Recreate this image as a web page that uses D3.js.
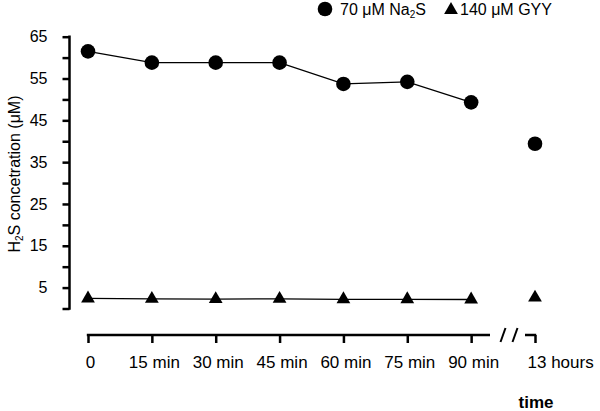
<!DOCTYPE html>
<html>
  <head>
    <meta charset="utf-8">
    <title>H2S concentration</title>
    <script src="https://d3js.org/d3.v7.min.js"></script>
    <style>
      body { margin: 0; background: #fff; }
      text { font-family: "Liberation Sans", Arial, sans-serif; }
    </style>
  </head>
  <body>
    <div id="chart"></div>
    <script>
      // Data
      const categories = ["0", "15 min", "30 min", "45 min", "60 min", "75 min", "90 min", "13 hours"];
      const na2s = [61.5, 58.8, 58.8, 58.8, 53.7, 54.2, 49.3, 39.4];
      const gyy = [2.4, 2.3, 2.25, 2.3, 2.2, 2.2, 2.15, 2.6];
      const yTicks = d3.range(0, 66, 5);
      const yLabels = [5, 15, 25, 35, 45, 55, 65];

      const width = 600, height = 411;

      const svg = d3.select("#chart")
        .append("svg")
        .attr("width", width)
        .attr("height", height);

      // Scales
      const x = d3.scalePoint()
        .domain(categories)
        .range([88, 535]);
      const y = d3.scaleLinear()
        .domain([0, 65])
        .range([308.5, 36.7]);

      const axisX = 69.5, axisY = 335;

      // Y axis
      const yAxis = d3.axisLeft(y)
        .tickValues(yTicks)
        .tickSize(7)
        .tickFormat(d => yLabels.includes(d) ? d : "");
      const gy = svg.append("g")
        .attr("transform", `translate(${axisX},0)`)
        .call(yAxis);
      gy.attr("font-size", 16).attr("font-family", "Liberation Sans, Arial, sans-serif");
      gy.select(".domain").remove();
      gy.append("line")
        .attr("x1", 0).attr("x2", 0)
        .attr("y1", y(0) + 1.2).attr("y2", y(65) - 1.2)
        .attr("stroke", "#000").attr("stroke-width", 2.5);
      gy.selectAll(".tick line").attr("stroke-width", 2.5);
      gy.selectAll(".tick text")
        .attr("x", -22)
        .attr("fill", "#000");

      // X axis (with break before 13 hours)
      const xAxis = d3.axisBottom(x).tickSize(8).tickPadding(13);
      const gx = svg.append("g")
        .attr("transform", `translate(0,${axisY})`)
        .call(xAxis);
      gx.attr("font-size", 17).attr("font-family", "Liberation Sans, Arial, sans-serif");
      gx.select(".domain").remove();
      gx.selectAll(".tick line").attr("stroke-width", 2.5);
      gx.selectAll(".tick text").attr("fill", "#000").attr("dx", 2);
      gx.selectAll(".tick text")
        .filter(d => d === "13 hours")
        .attr("text-anchor", "start")
        .attr("dx", -8);
      const last = x(categories[categories.length - 1]);
      gx.append("line")
        .attr("x1", x(categories[0]) - 1.2).attr("x2", 490)
        .attr("stroke", "#000").attr("stroke-width", 2.5);
      gx.append("line")
        .attr("x1", 525).attr("x2", last + 1.2)
        .attr("stroke", "#000").attr("stroke-width", 2.5);
      [503, 515].forEach(bx => {
        gx.append("line")
          .attr("x1", bx - 2.5).attr("y1", 7)
          .attr("x2", bx + 2.5).attr("y2", -7)
          .attr("stroke", "#000").attr("stroke-width", 2);
      });

      // Lines (connected up to 90 min only)
      const line = d3.line()
        .x((d, i) => x(categories[i]))
        .y(d => y(d));
      svg.append("path")
        .datum(na2s.slice(0, 7))
        .attr("d", line)
        .attr("fill", "none").attr("stroke", "#000").attr("stroke-width", 1.3);
      svg.append("path")
        .datum(gyy.slice(0, 7))
        .attr("d", line)
        .attr("fill", "none").attr("stroke", "#000").attr("stroke-width", 1.3);

      // Markers
      svg.selectAll(".dot")
        .data(na2s)
        .join("circle")
        .attr("cx", (d, i) => x(categories[i]))
        .attr("cy", d => y(d))
        .attr("r", 7.3)
        .attr("fill", "#000");
      const tri = d3.symbol().type(d3.symbolTriangle).size(82);
      svg.selectAll(".tri")
        .data(gyy)
        .join("path")
        .attr("d", tri)
        .attr("transform", (d, i) => `translate(${x(categories[i])},${y(d)})`)
        .attr("fill", "#000");

      // Y label
      const ylab = svg.append("text")
        .attr("transform", "translate(20,174) rotate(-90)")
        .attr("text-anchor", "middle")
        .attr("font-size", 16);
      ylab.append("tspan").text("H");
      ylab.append("tspan").text("2").attr("font-size", 10).attr("dy", 3);
      ylab.append("tspan").text("S concetration (\u03bcM)").attr("dy", -3);

      // X label
      svg.append("text")
        .attr("x", 536).attr("y", 408)
        .attr("text-anchor", "middle")
        .attr("font-size", 17)
        .attr("font-weight", "bold")
        .text("time");

      // Legend
      svg.append("circle").attr("cx", 325).attr("cy", 9).attr("r", 7.3).attr("fill", "#000");
      const l1 = svg.append("text").attr("x", 340).attr("y", 15).attr("font-size", 16);
      l1.append("tspan").text("70 \u03bcM Na");
      l1.append("tspan").text("2").attr("font-size", 10).attr("dy", 3);
      l1.append("tspan").text("S").attr("dy", -3);
      svg.append("path")
        .attr("d", tri)
        .attr("transform", "translate(451,10)")
        .attr("fill", "#000");
      svg.append("text").attr("x", 460).attr("y", 15).attr("font-size", 16)
        .text("140 \u03bcM GYY");
    </script>
  </body>
</html>
